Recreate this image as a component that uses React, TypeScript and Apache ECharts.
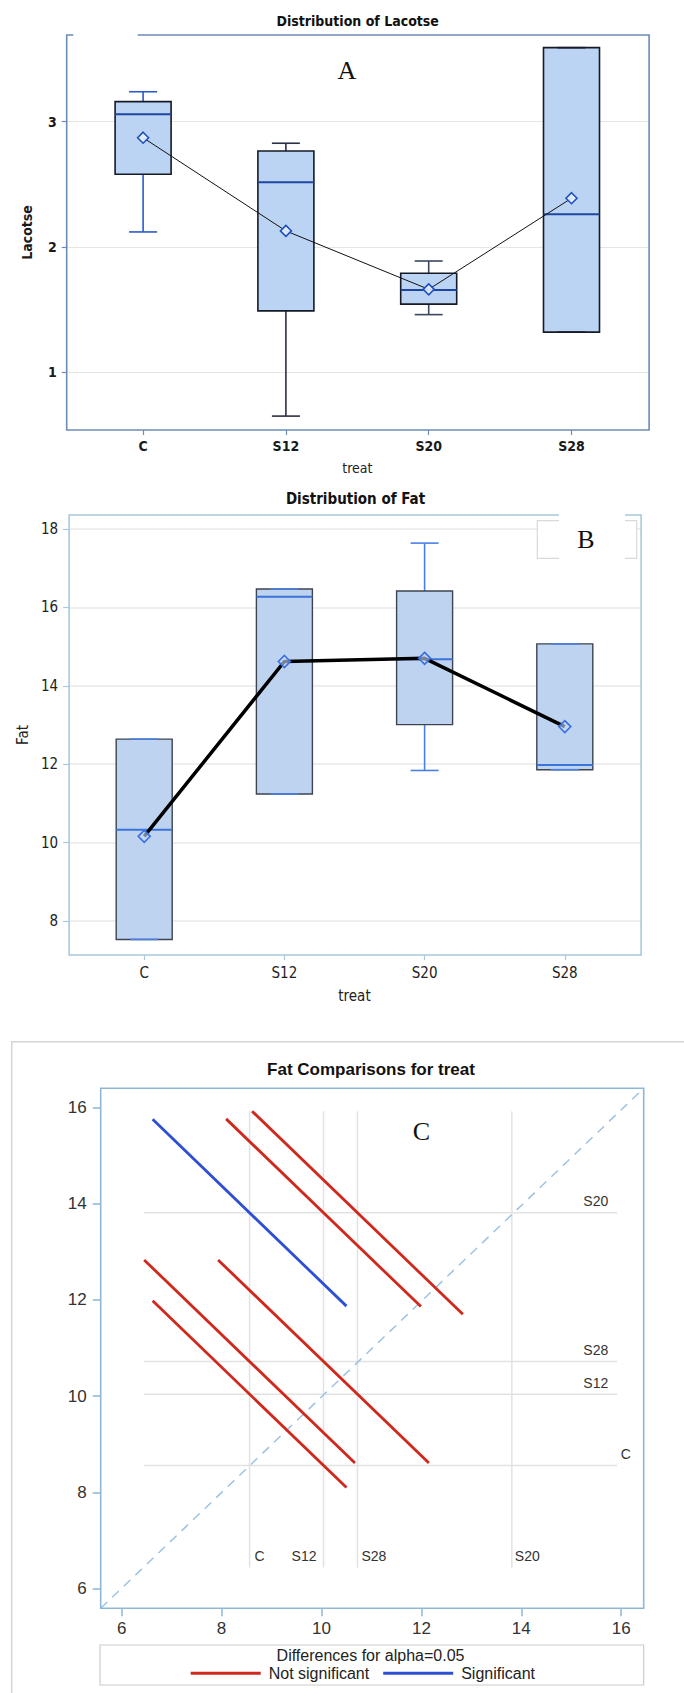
import { useEffect, useRef } from 'react';
import * as echarts from 'echarts';

// ---------- data ----------
const treats = ['C', 'S12', 'S20', 'S28'];

// Panel A – Distribution of Lacotse
const lacMin = [2.12, 0.65, 1.46, 1.32];
const lacQ1 = [2.58, 1.49, 1.544, 1.32];
const lacMedian = [3.06, 2.516, 1.657, 2.261];
const lacQ3 = [3.16, 2.766, 1.79, 3.591];
const lacMax = [3.239, 2.828, 1.888, 3.591];
const lacMean = [2.872, 2.128, 1.662, 2.389];
const lacTicks = [1, 2, 3];

// Panel B – Distribution of Fat
const fatMin = [7.53, 11.24, 11.84, 11.86];
const fatQ1 = [7.53, 11.24, 13.01, 11.86];
const fatMedian = [10.33, 16.27, 14.68, 11.98];
const fatQ3 = [12.64, 16.47, 16.42, 15.07];
const fatMax = [12.64, 16.47, 17.64, 15.07];
const fatMean = [10.16, 14.62, 14.7, 12.96];
const fatTicks = [8, 10, 12, 14, 16, 18];

// Panel C – Fat comparisons (diffogram)
const lsGroups = ['C', 'S12', 'S28', 'S20'];
const lsMeans = [8.56, 10.04, 10.72, 13.81];
const pairXGroup = ['C', 'S12', 'S28', 'C', 'S12', 'C'];
const pairYGroup = ['S20', 'S20', 'S20', 'S28', 'S28', 'S12'];
const pairHalfWidth = [1.94, 1.95, 2.11, 2.11, 2.11, 1.94];
const pairSignificant = [true, false, false, false, false, false];
const compTicks = [6, 8, 10, 12, 14, 16];

// ---------- layout / style ----------
const A_Y = [0.539, 3.692];
const B_Y = [7.133, 18.357];
const C_X = [5.58, 16.45];
const C_Y = [5.593, 16.395];
const REF_SPAN = [6.44, 15.92];
const REF_BOTTOM_LABEL_Y = 6.68;
const REF_BOTTOM_DX = [5, -7, 4, 3];
const REF_BOTTOM_ALIGN = ['left', 'right', 'left', 'left'];
const REF_RIGHT_X = [16.09, 15.49, 15.49, 15.49];

const NARROW = "'Liberation Sans Narrow','Arial Narrow','DejaVu Sans Condensed','Liberation Sans',sans-serif";
const ARIAL = "'Liberation Sans',Arial,sans-serif";
const SERIF = "'Liberation Serif','Times New Roman',serif";

const A_FRAME = '#6b8db4';
const B_FRAME = '#a9c9dc';
const C_FRAME = '#8db7d7';
const RED = '#d0281c';
const BLUE = '#2e4fd4';

const A_STYLE = {
  boxWidth: 56,
  capWidth: 28,
  fill: '#bcd4f4',
  stroke: '#151a26',
  boxLine: 1.6,
  median: '#1f45a0',
  medianWidth: 2,
  whisker: ['#2b5cc8', '#2a2f45', '#3b4660', '#1a1a2e'],
  whiskerWidth: 1.6,
};
const B_STYLE = {
  boxWidth: 56,
  capWidth: 28,
  fill: '#bed3f0',
  stroke: '#3d4450',
  boxLine: 1.4,
  median: '#3b73d9',
  medianWidth: 2,
  whisker: ['#4a80e6', '#4a80e6', '#4a80e6', '#4a80e6'],
  whiskerWidth: 1.6,
};

function boxRenderer(st: any) {
  return (_params: any, api: any) => {
    const i = api.value(0);
    const pMin = api.coord([i, api.value(1)]);
    const pQ1 = api.coord([i, api.value(2)]);
    const pMed = api.coord([i, api.value(3)]);
    const pQ3 = api.coord([i, api.value(4)]);
    const pMax = api.coord([i, api.value(5)]);
    const x = pMed[0];
    const hw = st.boxWidth / 2;
    const cw = st.capWidth / 2;
    const wc = st.whisker[i];
    const wl = { stroke: wc, lineWidth: st.whiskerWidth };
    return {
      type: 'group',
      children: [
        { type: 'line', shape: { x1: x, y1: pQ3[1], x2: x, y2: pMax[1] }, style: wl },
        { type: 'line', shape: { x1: x, y1: pQ1[1], x2: x, y2: pMin[1] }, style: wl },
        {
          type: 'rect',
          shape: { x: x - hw, y: pQ3[1], width: 2 * hw, height: pQ1[1] - pQ3[1] },
          style: { fill: st.fill, stroke: st.stroke, lineWidth: st.boxLine },
        },
        {
          type: 'line',
          shape: { x1: x - hw, y1: pMed[1], x2: x + hw, y2: pMed[1] },
          style: { stroke: st.median, lineWidth: st.medianWidth },
        },
        { type: 'line', shape: { x1: x - cw, y1: pMax[1], x2: x + cw, y2: pMax[1] }, style: wl },
        { type: 'line', shape: { x1: x - cw, y1: pMin[1], x2: x + cw, y2: pMin[1] }, style: wl },
      ],
    };
  };
}

function txt(text: string, x: number, y: number, size: number, family: string, weight = 'normal', color = '#111', z = 110) {
  return {
    type: 'text',
    x,
    y,
    z,
    silent: true,
    style: {
      text,
      fill: color,
      fontSize: size,
      fontFamily: family,
      fontWeight: weight,
      textAlign: 'center',
      textVerticalAlign: 'middle',
      align: 'center',
      verticalAlign: 'middle',
    },
  };
}

function pairData(sig: boolean) {
  const out: number[][] = [];
  pairXGroup.forEach((gx, i) => {
    if (pairSignificant[i] !== sig) return;
    out.push([lsMeans[lsGroups.indexOf(gx)], lsMeans[lsGroups.indexOf(pairYGroup[i])], pairHalfWidth[i]]);
  });
  return out;
}

function segRenderer(color: string) {
  return (_p: any, api: any) => {
    const mx = api.value(0);
    const my = api.value(1);
    const h = api.value(2);
    const p1 = api.coord([mx - h, my + h]);
    const p2 = api.coord([mx + h, my - h]);
    return {
      type: 'line',
      shape: { x1: p1[0], y1: p1[1], x2: p2[0], y2: p2[1] },
      style: { stroke: color, lineWidth: 2.8 },
    };
  };
}

function buildOption(): any {
  const lacBox = treats.map((_, i) => [i, lacMin[i], lacQ1[i], lacMedian[i], lacQ3[i], lacMax[i]]);
  const fatBox = treats.map((_, i) => [i, fatMin[i], fatQ1[i], fatMedian[i], fatQ3[i], fatMax[i]]);
  const refData = lsGroups.map((_, i) => [lsMeans[i], lsMeans[i], i]);

  const catAxisCommon = (grid: number, frame: string, label: any, nameGap: number, nameStyle: any) => ({
    type: 'category',
    gridIndex: grid,
    data: treats,
    axisLine: { show: false },
    axisTick: { show: true, alignWithLabel: true, length: 5, lineStyle: { color: frame, width: 1.2 } },
    axisLabel: label,
    splitLine: { show: false },
    name: 'treat',
    nameLocation: 'middle',
    nameGap,
    nameTextStyle: nameStyle,
  });

  return {
    animation: false,
    backgroundColor: '#ffffff',
    grid: [
      { left: 71.7, top: 35, width: 571.2, height: 395 },
      { left: 66.7, top: 35, width: 582.4, height: 395 },
      { left: 74.1, top: 515, width: 560.8, height: 440 },
      { left: 69.1, top: 515, width: 572, height: 440 },
      { left: 100.7, top: 1088.3, width: 543, height: 520 },
    ],
    xAxis: [
      catAxisCommon(
        0,
        A_FRAME,
        { margin: 9, fontFamily: NARROW, fontWeight: 'bold', fontSize: 14, color: '#1a1a1a' },
        31,
        { fontFamily: NARROW, fontSize: 14, color: '#222' }
      ),
      { type: 'value', gridIndex: 1, show: false, min: 0, max: 1 },
      catAxisCommon(
        2,
        B_FRAME,
        { margin: 10, fontFamily: NARROW, fontSize: 15, color: '#222' },
        33,
        { fontFamily: NARROW, fontSize: 15, color: '#222' }
      ),
      { type: 'value', gridIndex: 3, show: false, min: 0, max: 1 },
      {
        type: 'value',
        gridIndex: 4,
        min: C_X[0],
        max: C_X[1],
        minInterval: 2,
        maxInterval: 2,
        axisLine: { show: false },
        axisTick: { show: true, length: 8, customValues: compTicks, lineStyle: { color: C_FRAME, width: 1.5 } },
        axisLabel: { customValues: compTicks, margin: 12, fontFamily: ARIAL, fontSize: 17, color: '#333' },
        splitLine: { show: false },
      },
    ],
    yAxis: [
      { type: 'value', gridIndex: 0, min: A_Y[0], max: A_Y[1], show: false },
      {
        type: 'value',
        gridIndex: 1,
        min: A_Y[0],
        max: A_Y[1],
        minInterval: 1,
        maxInterval: 1,
        axisLine: { show: false },
        axisTick: { show: true, length: 5, customValues: lacTicks, lineStyle: { color: A_FRAME, width: 1.2 } },
        axisLabel: { customValues: lacTicks, margin: 10, fontFamily: NARROW, fontWeight: 'bold', fontSize: 14, color: '#1a1a1a' },
        splitLine: { show: true, lineStyle: { color: '#e7e4e4', width: 1 } },
        name: 'Lacotse',
        nameLocation: 'middle',
        nameGap: 33,
        nameTextStyle: { fontFamily: NARROW, fontWeight: 'bold', fontSize: 14, color: '#1a1a1a' },
      },
      { type: 'value', gridIndex: 2, min: B_Y[0], max: B_Y[1], show: false },
      {
        type: 'value',
        gridIndex: 3,
        min: B_Y[0],
        max: B_Y[1],
        minInterval: 2,
        maxInterval: 2,
        axisLine: { show: false },
        axisTick: { show: true, length: 6, customValues: fatTicks, lineStyle: { color: B_FRAME, width: 1.2 } },
        axisLabel: { customValues: fatTicks, margin: 11, fontFamily: NARROW, fontSize: 15, color: '#222' },
        splitLine: { show: true, lineStyle: { color: '#eeeeee', width: 2 } },
        name: 'Fat',
        nameLocation: 'middle',
        nameGap: 38,
        nameTextStyle: { fontFamily: NARROW, fontSize: 15, color: '#222' },
      },
      {
        type: 'value',
        gridIndex: 4,
        min: C_Y[0],
        max: C_Y[1],
        minInterval: 2,
        maxInterval: 2,
        axisLine: { show: false },
        axisTick: { show: true, length: 8, customValues: compTicks, lineStyle: { color: C_FRAME, width: 1.5 } },
        axisLabel: { customValues: compTicks, margin: 14, fontFamily: ARIAL, fontSize: 17, color: '#333' },
        splitLine: { show: false },
      },
    ],
    legend: {
      data: ['Not significant', 'Significant'],
      left: 190.7,
      top: 1664.3,
      padding: 0,
      itemWidth: 70,
      itemHeight: 3,
      itemGap: 14,
      icon: 'rect',
      selectedMode: false,
      textStyle: { fontFamily: ARIAL, fontSize: 16, color: '#222', lineHeight: 18, padding: [0, 0, 0, 3] },
    },
    series: [
      // Panel A
      {
        type: 'custom',
        name: 'Lacotse box',
        xAxisIndex: 0,
        yAxisIndex: 0,
        data: lacBox,
        encode: { x: 0, y: [1, 2, 3, 4, 5] },
        renderItem: boxRenderer(A_STYLE),
        silent: true,
        z: 2,
      },
      {
        type: 'line',
        name: 'Lacotse mean',
        xAxisIndex: 0,
        yAxisIndex: 0,
        data: lacMean,
        symbol: 'diamond',
        symbolSize: 11,
        lineStyle: { color: '#111', width: 1 },
        itemStyle: { color: 'rgba(230,240,253,0.9)', borderColor: '#1f4fc0', borderWidth: 1.6 },
        silent: true,
        z: 4,
      },
      // Panel B
      {
        type: 'custom',
        name: 'Fat box',
        xAxisIndex: 2,
        yAxisIndex: 2,
        data: fatBox,
        encode: { x: 0, y: [1, 2, 3, 4, 5] },
        renderItem: boxRenderer(B_STYLE),
        silent: true,
        z: 2,
      },
      {
        type: 'line',
        name: 'Fat mean',
        xAxisIndex: 2,
        yAxisIndex: 2,
        data: fatMean,
        symbol: 'diamond',
        symbolSize: 12,
        lineStyle: { color: '#000', width: 3.5 },
        itemStyle: { color: 'rgba(200,220,250,0.6)', borderColor: '#3a6fe0', borderWidth: 1.6 },
        silent: true,
        z: 4,
      },
      // Panel C reference lines
      {
        type: 'custom',
        name: 'LS means',
        xAxisIndex: 4,
        yAxisIndex: 4,
        data: refData,
        encode: { x: 0, y: 1 },
        silent: true,
        z: 1,
        renderItem: (_p: any, api: any) => {
          const m = api.value(0);
          const i = api.value(2);
          const vTop = api.coord([m, REF_SPAN[1]]);
          const vBot = api.coord([m, REF_SPAN[0]]);
          const hL = api.coord([REF_SPAN[0], m]);
          const hR = api.coord([REF_SPAN[1], m]);
          const bl = api.coord([m, REF_BOTTOM_LABEL_Y]);
          const rl = api.coord([REF_RIGHT_X[i], m]);
          const ls = { stroke: '#e2e2e2', lineWidth: 1.5 };
          const ts = (t: string, align: string) => ({
            text: t,
            fill: '#333',
            fontSize: 14,
            fontFamily: ARIAL,
            textAlign: align,
            textVerticalAlign: 'middle',
            align,
            verticalAlign: 'middle',
          });
          return {
            type: 'group',
            children: [
              { type: 'line', shape: { x1: vTop[0], y1: vTop[1], x2: vBot[0], y2: vBot[1] }, style: ls },
              { type: 'line', shape: { x1: hL[0], y1: hL[1], x2: hR[0], y2: hR[1] }, style: ls },
              { type: 'text', x: bl[0] + REF_BOTTOM_DX[i], y: bl[1], style: ts(lsGroups[i], REF_BOTTOM_ALIGN[i]) },
              { type: 'text', x: rl[0], y: rl[1] - 11.5, style: ts(lsGroups[i], 'center') },
            ],
          };
        },
      },
      {
        type: 'line',
        name: 'Diagonal',
        xAxisIndex: 4,
        yAxisIndex: 4,
        data: [
          [C_X[0], C_Y[0]],
          [C_X[1], C_Y[1]],
        ],
        symbol: 'none',
        lineStyle: { color: '#9ec3e0', width: 1.5, type: [9, 7] },
        silent: true,
        z: 2,
      },
      {
        type: 'custom',
        name: 'Not significant',
        xAxisIndex: 4,
        yAxisIndex: 4,
        data: pairData(false),
        encode: { x: 0, y: 1 },
        itemStyle: { color: RED },
        renderItem: segRenderer(RED),
        silent: true,
        z: 3,
      },
      {
        type: 'custom',
        name: 'Significant',
        xAxisIndex: 4,
        yAxisIndex: 4,
        data: pairData(true),
        encode: { x: 0, y: 1 },
        itemStyle: { color: BLUE },
        renderItem: segRenderer(BLUE),
        silent: true,
        z: 3,
      },
    ],
    graphic: [
      // Panel A frame + gap
      { type: 'rect', z: 100, silent: true, shape: { x: 66.7, y: 35, width: 582.4, height: 395 }, style: { fill: 'none', stroke: A_FRAME, lineWidth: 1.6 } },
      { type: 'rect', z: 101, silent: true, shape: { x: 73.3, y: 32, width: 64.4, height: 6 }, style: { fill: '#ffffff' } },
      txt('Distribution of Lacotse', 357.7, 20.5, 14, NARROW, 'bold', '#111'),
      txt('A', 346.8, 70, 26, SERIF, 'normal', '#111'),
      // Panel B frame + label box
      { type: 'rect', z: 100, silent: true, shape: { x: 69.1, y: 515, width: 572, height: 440 }, style: { fill: 'none', stroke: B_FRAME, lineWidth: 1.6 } },
      { type: 'rect', z: 101, silent: true, shape: { x: 537.3, y: 520.7, width: 99.4, height: 37.6 }, style: { fill: '#ffffff', stroke: '#d9d9d9', lineWidth: 1.2 } },
      { type: 'rect', z: 102, silent: true, shape: { x: 559, y: 512, width: 66, height: 50 }, style: { fill: '#ffffff' } },
      txt('Distribution of Fat', 355.5, 498.6, 15, NARROW, 'bold', '#111'),
      txt('B', 586, 539.3, 26, SERIF, 'normal', '#111'),
      // Panel C
      { type: 'rect', z: 0, silent: true, shape: { x: 11.7, y: 1041.7, width: 720, height: 700 }, style: { fill: 'none', stroke: '#d4d4d4', lineWidth: 1.5 } },
      { type: 'rect', z: 100, silent: true, shape: { x: 100.7, y: 1088.3, width: 543, height: 520 }, style: { fill: 'none', stroke: C_FRAME, lineWidth: 1.6 } },
      txt('Fat Comparisons for treat', 371, 1069, 17, ARIAL, 'bold', '#111'),
      txt('C', 421.3, 1131.7, 26, SERIF, 'normal', '#111'),
      { type: 'rect', z: 100, silent: true, shape: { x: 100, y: 1645, width: 543.7, height: 40 }, style: { fill: 'none', stroke: '#cccccc', lineWidth: 1.2 } },
      txt('Differences for alpha=0.05', 370.5, 1655, 16, ARIAL, 'normal', '#222'),
    ],
  };
}

export default function App() {
  const ref = useRef<HTMLDivElement>(null);
  useEffect(() => {
    if (!ref.current) return;
    const chart = echarts.init(ref.current, null, { renderer: 'svg' });
    chart.setOption(buildOption());
    return () => chart.dispose();
  }, []);
  return (
    <div
      ref={ref}
      style={{ position: 'absolute', left: 0, top: 0, width: 684, height: 1693, background: '#ffffff' }}
    />
  );
}
